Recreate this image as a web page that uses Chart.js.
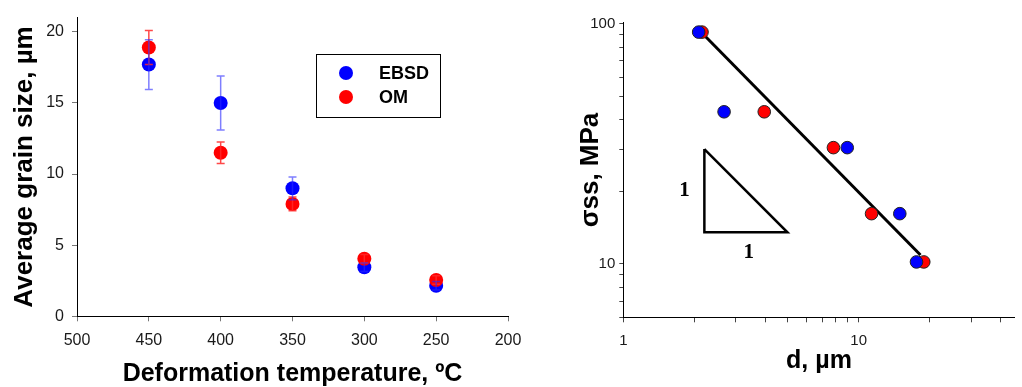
<!DOCTYPE html>
<html><head><meta charset="utf-8">
<script src="https://cdn.jsdelivr.net/npm/chart.js@4.4.1/dist/chart.umd.min.js"></script>
<style>
html,body{margin:0;padding:0;background:#fff;width:1022px;height:387px;overflow:hidden;}
#w1{position:absolute;left:0;top:0;width:540px;height:387px;}
#w2{position:absolute;left:560px;top:0;width:462px;height:387px;}
</style></head>
<body>
<div id="w1"><canvas id="c1" width="540" height="387"></canvas></div>
<div id="w2"><canvas id="c2" width="462" height="387"></canvas></div>
<script>
// ---- Left chart data ----
const temps = [450, 400, 350, 300, 250];
const ebsdSize = [17.7, 15.0, 9.0, 3.45, 2.15];
const ebsdErr = [1.75, 1.9, 0.8, 0.3, 0.3];
const omSize = [18.9, 11.5, 7.9, 4.05, 2.55];
const omErr = [1.2, 0.76, 0.48, 0.3, 0.3];
const tempTicks = [500, 450, 400, 350, 300, 250, 200];
const sizeTicks = [0, 5, 10, 15, 20];
const seriesNames = ['EBSD', 'OM'];

// ---- Right chart data ----
const ebsdD = [2.09, 2.68, 8.94, 14.95, 17.6];
const ebsdStress = [92.3, 43.0, 30.5, 16.2, 10.2];
const omD = [2.16, 3.97, 7.81, 11.34, 18.9];
const omStress = [92.3, 43.0, 30.5, 16.2, 10.2];
const fitD = [2.16, 18.3];
const fitStress = [91.5, 10.9];
const triD = [2.21, 2.21, 4.98, 2.21];
const triStress = [30.1, 13.55, 13.55, 30.1];
const slopeLabels = ['1', '1'];
const slopeLabelD = [1.82, 3.41];
const slopeLabelStress = [20.2, 11.19];
const dTicks = [1,2,3,4,5,6,7,8,9,10,20,30,40];
const dLabels = [1, 10];
const stressTicks = [6,7,8,9,10,20,30,40,50,60,70,80,90,100];
const stressLabels = [10, 100];

const FONT = "'Liberation Sans', Arial, Helvetica, sans-serif";
const pts = (xs, ys) => xs.map((x, i) => ({x: x, y: ys[i]}));

const errorBars = {
  id: 'errorBars',
  afterDatasetsDraw(chart) {
    const ctx = chart.ctx, xs = chart.scales.x, ys = chart.scales.y;
    const sets = [[omSize, omErr, 'rgba(255,40,40,0.85)'], [ebsdSize, ebsdErr, 'rgba(40,40,255,0.6)']];
    ctx.save();
    sets.forEach(([vals, errs, col]) => {
      ctx.strokeStyle = col; ctx.lineWidth = 1.5;
      temps.forEach((t, i) => {
        const x = xs.getPixelForValue(t);
        const y1 = ys.getPixelForValue(vals[i] + errs[i]);
        const y2 = ys.getPixelForValue(vals[i] - errs[i]);
        ctx.beginPath();
        ctx.moveTo(x, y1); ctx.lineTo(x, y2);
        ctx.moveTo(x - 4, y1); ctx.lineTo(x + 4, y1);
        ctx.moveTo(x - 4, y2); ctx.lineTo(x + 4, y2);
        ctx.stroke();
      });
    });
    // legend box
    ctx.strokeStyle = '#000'; ctx.lineWidth = 1;
    ctx.strokeRect(316.5, 54.5, 124, 63);
    const cols = ['#0000ff', '#ff0000'];
    seriesNames.forEach((n, i) => {
      const y = 73 + i * 24;
      ctx.fillStyle = cols[i];
      ctx.beginPath(); ctx.arc(346, y, 7, 0, Math.PI * 2); ctx.fill();
      ctx.fillStyle = '#000';
      ctx.font = 'bold 18px ' + FONT;
      ctx.textBaseline = 'middle'; ctx.textAlign = 'left';
      ctx.fillText(n, 379, y + 1);
    });
    ctx.restore();
  }
};

new Chart(document.getElementById('c1'), {
  type: 'scatter',
  data: {
    datasets: [
      {label: 'OM', data: pts(temps, omSize), backgroundColor: '#ff0000', borderWidth: 0, pointRadius: 7, pointHoverRadius: 7},
      {label: 'EBSD', data: pts(temps, ebsdSize), backgroundColor: '#0000ff', borderWidth: 0, pointRadius: 7, pointHoverRadius: 7}
    ]
  },
  options: {
    responsive: false, animation: false,
    layout: {padding: {top: 13, right: 32, bottom: 0, left: 0}},
    plugins: {legend: {display: false}, tooltip: {enabled: false}},
    scales: {
      x: {
        type: 'linear', min: 200, max: 500, reverse: true,
        afterBuildTicks: s => { s.ticks = tempTicks.map(v => ({value: v})); },
        afterFit: s => { s.height = 70.7; },
        border: {color: '#000', width: 1},
        grid: {display: true, drawOnChartArea: false, tickLength: 5, color: '#777'},
        ticks: {color: '#1a1a1a', font: {family: FONT, size: 16}, padding: 10, maxRotation: 0},
        title: {display: true, text: 'Deformation temperature, ºC', color: '#000', font: {family: FONT, size: 25, weight: 'bold', lineHeight: 1.05}, padding: {top: 0, bottom: 0}}
      },
      y: {
        type: 'linear', min: 0, max: 21,
        afterBuildTicks: s => { s.ticks = sizeTicks.map(v => ({value: v})); },
        afterFit: s => { s.width = 77; },
        border: {color: '#000', width: 1},
        grid: {display: true, drawOnChartArea: false, tickLength: 5, color: '#777'},
        ticks: {color: '#1a1a1a', font: {family: FONT, size: 16}, padding: 8},
        title: {display: true, text: 'Average grain size, µm', color: '#000', font: {family: FONT, size: 26, weight: 'bold'}, padding: {top: 9, bottom: 0}}
      }
    }
  },
  plugins: [errorBars]
});

const slopeText = {
  id: 'slopeText',
  afterDatasetsDraw(chart) {
    const ctx = chart.ctx, xs = chart.scales.x, ys = chart.scales.y;
    ctx.save();
    ctx.fillStyle = '#000';
    ctx.font = "bold 21px 'Liberation Serif', 'Times New Roman', serif";
    ctx.textAlign = 'center'; ctx.textBaseline = 'middle';
    slopeLabels.forEach((t, i) => {
      ctx.fillText(t, xs.getPixelForValue(slopeLabelD[i]), ys.getPixelForValue(slopeLabelStress[i]));
    });
    ctx.restore();
  }
};

new Chart(document.getElementById('c2'), {
  type: 'scatter',
  data: {
    datasets: [
      {label: 'EBSD', data: pts(ebsdD, ebsdStress), backgroundColor: '#0000ff', borderColor: '#222', borderWidth: 1, pointRadius: 6.3, pointHoverRadius: 6.3},
      {label: 'OM', data: pts(omD, omStress), backgroundColor: '#ff0000', borderColor: '#222', borderWidth: 1, pointRadius: 6.3, pointHoverRadius: 6.3},
      {label: 'fit', data: pts(fitD, fitStress), showLine: true, borderColor: '#000', borderWidth: 3, pointRadius: 0, fill: false},
      {label: 'slope', data: pts(triD, triStress), showLine: true, borderColor: '#000', borderWidth: 2.5, pointRadius: 0, fill: false}
    ]
  },
  options: {
    responsive: false, animation: false,
    layout: {padding: {top: 22.7, right: 1, bottom: 0, left: 0}},
    plugins: {legend: {display: false}, tooltip: {enabled: false}},
    scales: {
      x: {
        type: 'logarithmic', min: 1, max: 46,
        afterBuildTicks: s => { s.ticks = dTicks.map(v => ({value: v})); },
        afterFit: s => { s.height = 69.7; },
        border: {color: '#000', width: 1},
        grid: {display: true, drawOnChartArea: false, tickLength: 5, color: '#444'},
        ticks: {color: '#1a1a1a', font: {family: FONT, size: 15}, padding: 10, maxRotation: 0, autoSkip: false,
          callback: v => dLabels.includes(v) ? String(v) : ''},
        title: {display: true, text: 'd, µm', color: '#000', font: {family: FONT, size: 25, weight: 'bold'}, padding: {top: 0, bottom: 11}}
      },
      y: {
        type: 'logarithmic', min: 6, max: 101,
        afterBuildTicks: s => { s.ticks = stressTicks.map(v => ({value: v})); },
        afterFit: s => { s.width = 63.3; },
        border: {color: '#000', width: 1},
        grid: {display: true, drawOnChartArea: false, tickLength: 4, color: '#444'},
        ticks: {color: '#1a1a1a', font: {family: FONT, size: 15}, padding: 4, autoSkip: false,
          callback: v => stressLabels.includes(v) ? String(v) : ''},
        title: {display: true, text: 'σss, MPa', color: '#000', font: {family: FONT, size: 26, weight: 'bold'}, padding: {top: 15, bottom: 0}}
      }
    }
  },
  plugins: [slopeText]
});
</script>
</body></html>
